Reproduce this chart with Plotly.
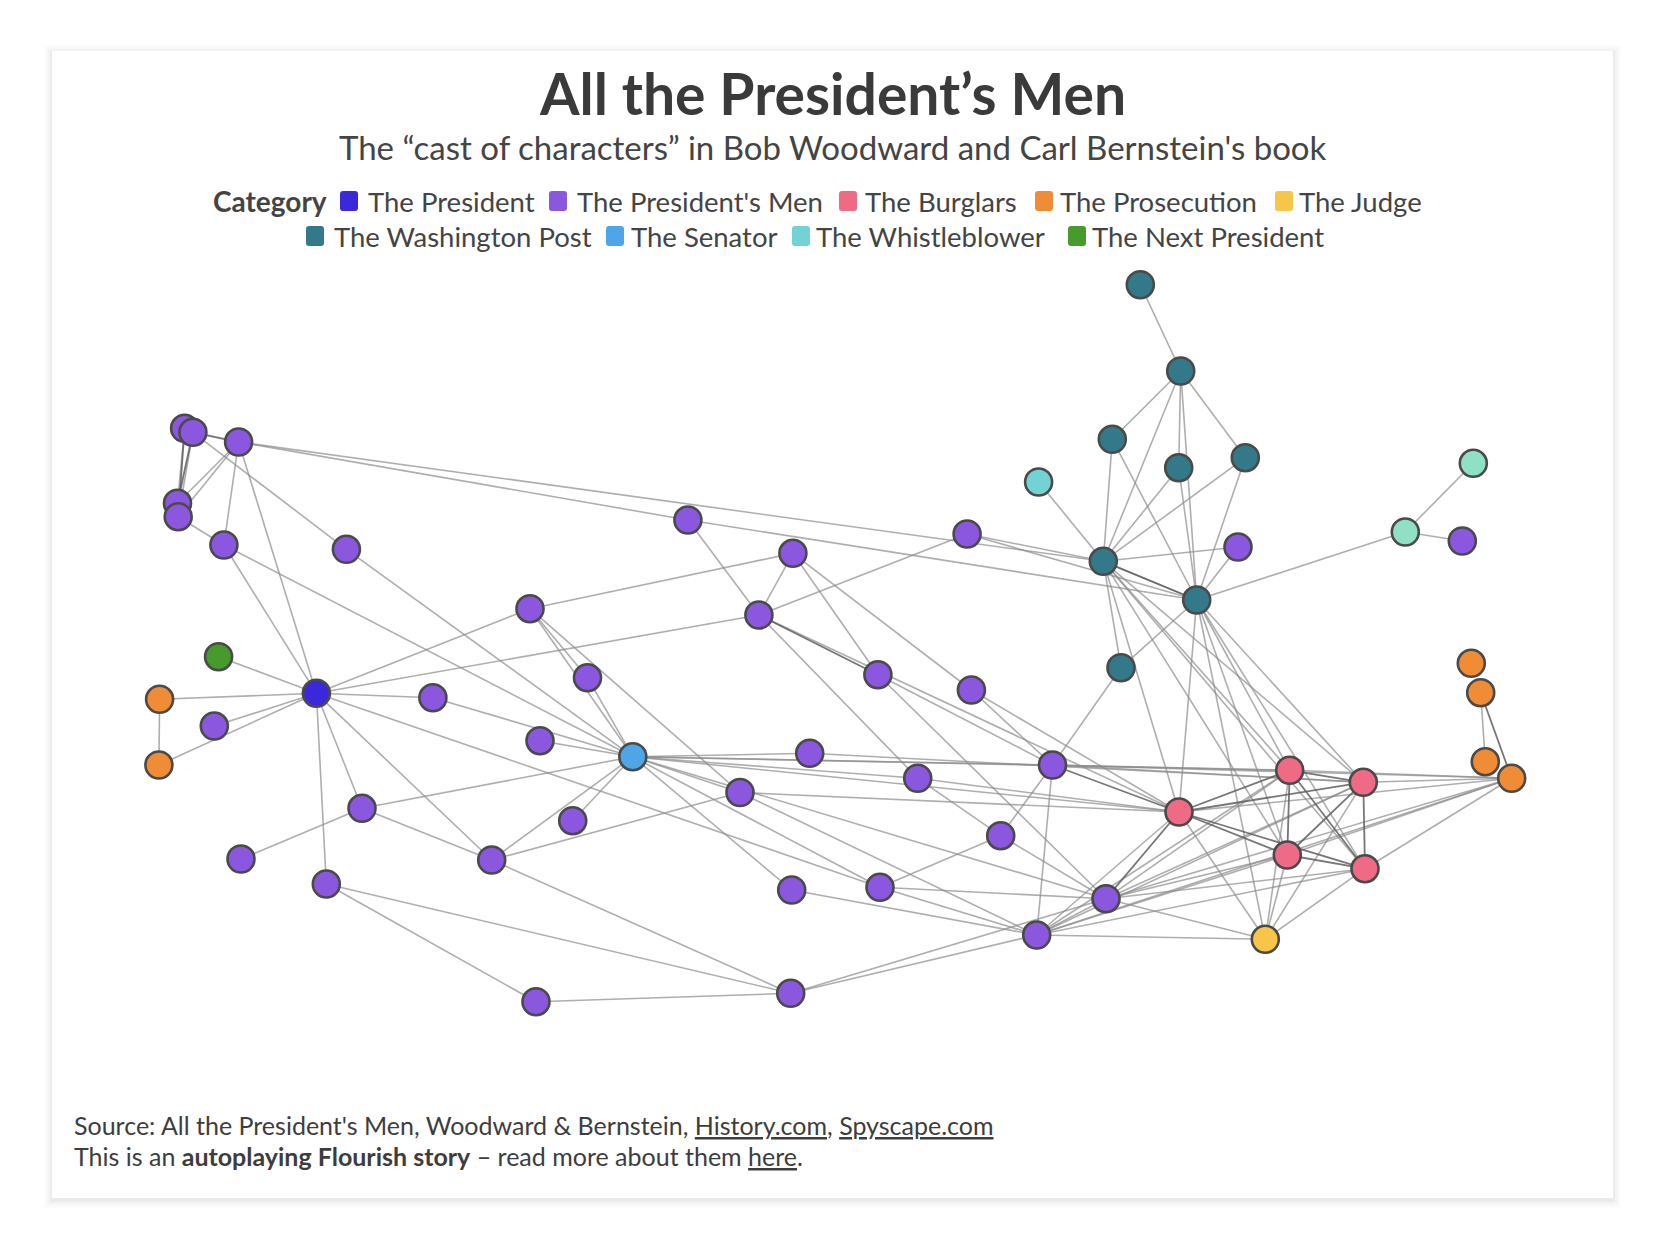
import plotly.graph_objects as go

# Node data: layout position of every character and its category
node_x = [184.6, 192.9, 238.6, 177.5, 178.2, 223.9, 346.4, 687.9, 792.9, 758.9,
          967.1, 530.0, 587.5, 432.9, 540.0, 214.3, 362.0, 241.0, 326.3, 491.7,
          572.7, 536.0, 877.9, 971.4, 809.7, 917.7, 1052.5, 740.0, 1000.7, 791.7,
          880.0, 1036.7, 790.7, 1106.0, 1238.0, 1462.3,
          316.4, 218.6,
          159.6, 158.9, 1471.3, 1480.7, 1485.3, 1511.7,
          632.8, 1038.6,
          1140.3, 1180.7, 1112.3, 1178.7, 1245.3, 1103.3, 1196.7, 1121.0,
          1473.3, 1405.3,
          1179.0, 1289.7, 1363.3, 1287.3, 1365.0,
          1265.3]
node_y = [428.3, 432.3, 442.0, 503.3, 516.7, 545.0, 549.3, 520.0, 553.3, 615.0,
          534.0, 608.7, 677.7, 697.7, 740.7, 726.0, 808.3, 859.0, 884.0, 860.0,
          820.7, 1001.7, 674.7, 690.0, 753.3, 778.3, 765.0, 792.5, 835.7, 890.0,
          887.3, 935.0, 993.3, 898.7, 547.0, 541.0,
          693.3, 656.7,
          699.3, 765.0, 663.3, 692.7, 761.7, 778.3,
          756.7, 482.0,
          284.7, 371.0, 439.3, 467.7, 457.7, 561.3, 600.0, 667.7,
          463.3, 532.0,
          812.0, 770.3, 782.3, 855.0, 868.7,
          939.3]
node_cat = (["The President's Men"] * 36 + ["The President", "The Next President"]
            + ["The Prosecution"] * 6 + ["The Senator", "The Whistleblower"]
            + ["The Washington Post"] * 8 + ["Other"] * 2
            + ["The Burglars"] * 5 + ["The Judge"])

# Connections (pairs of node indices)
edges = [(0, 3), (1, 4), (2, 3), (2, 4), (4, 5), (2, 5), (1, 6), (2, 36), (5, 36),
         (5, 44), (2, 51), (2, 7), (7, 52), (7, 9), (6, 44), (8, 9), (8, 11),
         (8, 22), (8, 23), (9, 10), (9, 36), (9, 25), (9, 56), (10, 51), (10, 52),
         (11, 36), (11, 12), (11, 44), (11, 27), (12, 44), (13, 36), (13, 44),
         (14, 44), (15, 36), (37, 36), (38, 36), (38, 39), (39, 36), (16, 36),
         (16, 17), (16, 19), (16, 44), (18, 36), (18, 32), (19, 36), (19, 44),
         (19, 27), (19, 32), (21, 18), (21, 32), (20, 44), (44, 24), (44, 25),
         (44, 26), (44, 27), (44, 29), (44, 30), (44, 33), (44, 56), (44, 57),
         (24, 58), (27, 56), (27, 31), (36, 30), (22, 26), (22, 33), (23, 56),
         (23, 26), (25, 28), (25, 56), (28, 26), (28, 30), (28, 33), (29, 31),
         (30, 31), (30, 33), (32, 31), (32, 33), (31, 33), (26, 31),
         (46, 47), (47, 48), (47, 51), (47, 49), (47, 52), (47, 50), (48, 51),
         (48, 52), (49, 51), (49, 52), (50, 51), (50, 52), (34, 51), (34, 52),
         (52, 55), (55, 54), (55, 35), (45, 51), (51, 52), (51, 53), (52, 53),
         (53, 26), (51, 56), (51, 57), (51, 59), (51, 60), (51, 58), (52, 56),
         (52, 57), (52, 58), (52, 59), (52, 60), (52, 61), (26, 57), (26, 58),
         (26, 43), (33, 57), (33, 58), (33, 59), (33, 60), (33, 43), (33, 61),
         (31, 56), (31, 57), (31, 58), (31, 59), (31, 60), (31, 43), (31, 61),
         (61, 56), (61, 57), (61, 58), (61, 59), (61, 60), (43, 57), (43, 58),
         (43, 59), (43, 60), (43, 56), (41, 42)]
strong_edges = [(0, 1), (1, 2), (0, 4), (1, 3), (9, 22), (26, 56), (33, 56),
                (56, 57), (56, 58), (56, 59), (56, 60), (57, 58), (57, 59),
                (57, 60), (58, 59), (58, 60), (59, 60), (41, 43), (51, 52)]

categories = ["The President", "The President's Men", "The Burglars", "The Prosecution",
              "The Judge", "The Washington Post", "The Senator", "The Whistleblower",
              "The Next President"]
colors = {"The President": "#3b28db", "The President's Men": "#8b57de",
          "The Burglars": "#ee6a85", "The Prosecution": "#ef8c35",
          "The Judge": "#f7c547", "The Washington Post": "#34798a",
          "The Senator": "#4ea6e6", "The Whistleblower": "#72d2d4",
          "The Next President": "#479b2d", "Other": "#8fe0c5"}

# ---- layout constants (pixel space of the 1658x1234 page) ----
W, H = 1658, 1234
OFF = 8  # page body margin
CARD = (52, 51, 1613, 1198)
legend_rows = [  # (label, square_x, text_x, y)
    ("The President", 340, 366, 201), ("The President's Men", 549, 575, 201),
    ("The Burglars", 839, 863, 201), ("The Prosecution", 1035, 1058, 201),
    ("The Judge", 1275, 1297, 201),
    ("The Washington Post", 306, 332, 236), ("The Senator", 606, 629, 236),
    ("The Whistleblower", 792, 814, 236), ("The Next President", 1068, 1090, 236),
]


def rounded_rect(x0, y0, x1, y1, r):
    return (f"M {x0 + r},{y0} L {x1 - r},{y0} Q {x1},{y0} {x1},{y0 + r} "
            f"L {x1},{y1 - r} Q {x1},{y1} {x1 - r},{y1} L {x0 + r},{y1} "
            f"Q {x0},{y1} {x0},{y1 - r} L {x0},{y0 + r} Q {x0},{y0} {x0 + r},{y0} Z")


def edge_xy(pairs):
    xs, ys = [], []
    for a, b in pairs:
        xs += [node_x[a], node_x[b], None]
        ys += [node_y[a], node_y[b], None]
    return xs, ys


fig = go.Figure()

ex, ey = edge_xy(edges)
fig.add_trace(go.Scatter(x=ex, y=ey, mode="lines", hoverinfo="skip",
                         line=dict(color="rgba(140,140,140,0.7)", width=1.6)))
sx, sy = edge_xy(strong_edges)
fig.add_trace(go.Scatter(x=sx, y=sy, mode="lines", hoverinfo="skip",
                         line=dict(color="rgba(95,95,95,0.85)", width=1.8)))

for cat in ["The President's Men", "The President", "The Next President", "The Prosecution",
            "The Senator", "The Whistleblower", "The Washington Post", "Other",
            "The Burglars", "The Judge"]:
    idx = [i for i, c in enumerate(node_cat) if c == cat]
    fig.add_trace(go.Scatter(
        x=[node_x[i] for i in idx], y=[node_y[i] for i in idx], mode="markers",
        name=cat, marker=dict(size=27, color=colors[cat],
                              line=dict(color="#4a4a4a", width=2.6))))

shapes = []
# soft card shadow
for k, a in enumerate([0.010, 0.014, 0.020, 0.030]):
    g = 8 - 2 * k
    shapes.append(dict(type="rect", xref="x", yref="y", layer="below",
                       x0=CARD[0] - g, y0=CARD[1] - g + 2, x1=CARD[2] + g, y1=CARD[3] + g + 2,
                       line=dict(width=0), fillcolor=f"rgba(0,0,0,{a})"))
shapes.append(dict(type="rect", xref="x", yref="y", layer="below",
                   x0=CARD[0], y0=CARD[1], x1=CARD[2], y1=CARD[3],
                   line=dict(width=0), fillcolor="white"))

annotations = [
    dict(text="<b>All the President’s Men</b>", x=(CARD[0] + CARD[2]) / 2, y=93,
         font=dict(family="Lato", size=57, color="#3a3a3a")),
    dict(text="The “cast of characters” in Bob Woodward and Carl Bernstein's book",
         x=(CARD[0] + CARD[2]) / 2, y=147, font=dict(family="Lato", size=33, color="#444444")),
    dict(text="<b>Category</b>", x=211, y=201, xanchor="left",
         font=dict(family="Lato", size=28, color="#444444")),
    dict(text="Source: All the President's Men, Woodward &amp; Bernstein, "
              "<u>History.com</u>, <u>Spyscape.com</u>",
         x=72, y=1125, xanchor="left", font=dict(family="Lato", size=25, color="#3d3d3d")),
    dict(text="This is an <b>autoplaying Flourish story</b> – read more about them <u>here</u>.",
         x=72, y=1156, xanchor="left", font=dict(family="Lato", size=25, color="#3d3d3d")),
]
for label, sqx, tx, y in legend_rows:
    shapes.append(dict(type="path", xref="x", yref="y", layer="above",
                       path=rounded_rect(sqx, y - 10, sqx + 18, y + 10, 3),
                       line=dict(width=0), fillcolor=colors[label]))
    annotations.append(dict(text=label, x=tx, y=y, xanchor="left",
                            font=dict(family="Lato", size=27.5, color="#444444")))

for a in annotations:
    a.update(xref="x", yref="y", showarrow=False)
    a.setdefault("xanchor", "center")
    a.setdefault("yanchor", "middle")

fig.update_layout(
    width=W, height=H, autosize=False, margin=dict(l=0, r=0, t=0, b=0),
    paper_bgcolor="white", plot_bgcolor="rgba(0,0,0,0)", showlegend=False,
    xaxis=dict(range=[OFF, W + OFF], visible=False, fixedrange=True),
    yaxis=dict(range=[H + OFF, OFF], visible=False, fixedrange=True),
    shapes=shapes, annotations=annotations,
)

fig.write_html("out.html")
